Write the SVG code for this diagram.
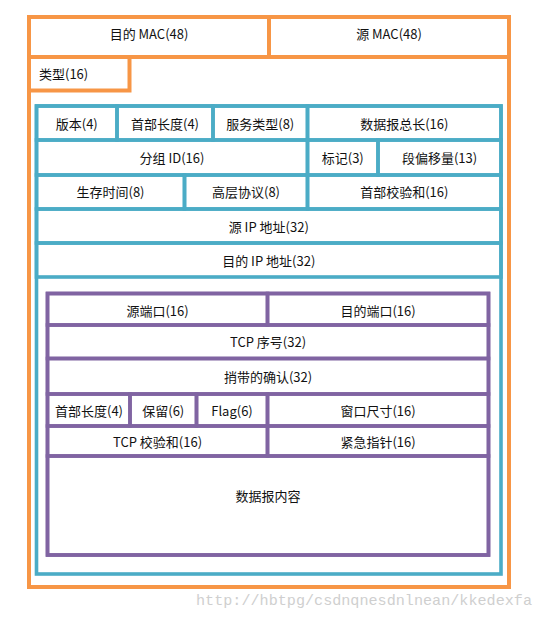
<svg xmlns="http://www.w3.org/2000/svg" width="548" height="617" viewBox="0 0 548 617">
<style>
rect{fill:none}
.o{stroke:#F79646;stroke-width:4}
.b{stroke:#4BACC6;stroke-width:3.6}
.p{stroke:#8064A2;stroke-width:3.6}
text{font-family:"Noto Sans CJK SC","Noto Sans",sans-serif;font-size:13px;fill:#111;text-anchor:middle;dominant-baseline:central}
.wm{font-family:"Liberation Mono","DejaVu Sans Mono",monospace;font-size:15px;fill:#cfcfcf;text-anchor:start;dominant-baseline:auto}
</style>
<rect width="548" height="617" fill="#fff" style="fill:#fff"/>
<g id="ethernet">
<rect class="o" x="29" y="17" width="480" height="570"/>
<g id="dst-mac"><rect class="o" x="29" y="17" width="240" height="40"/><text x="149" y="33">目的 MAC(48)</text></g>
<g id="src-mac"><rect class="o" x="269" y="17" width="240" height="40"/><text x="389" y="33">源 MAC(48)</text></g>
<g id="type"><rect class="o" x="29" y="57" width="100.5" height="33.5"/><text x="39" y="73" style="text-anchor:start">类型(16)</text></g>
</g>
<g id="ip">
<rect class="b" x="36.5" y="106" width="464.5" height="468"/>
<g id="ip-ver"><rect class="b" x="36.5" y="106" width="80.5" height="34"/><text x="76.75" y="123">版本(4)</text></g>
<g id="ip-hlen"><rect class="b" x="117" y="106" width="96" height="34"/><text x="165" y="123">首部长度(4)</text></g>
<g id="ip-tos"><rect class="b" x="213" y="106" width="94.5" height="34"/><text x="260.25" y="123">服务类型(8)</text></g>
<g id="ip-len"><rect class="b" x="307.5" y="106" width="193.5" height="34"/><text x="404.25" y="123">数据报总长(16)</text></g>
<g id="ip-id"><rect class="b" x="36.5" y="140" width="271" height="35"/><text x="172" y="157">分组 ID(16)</text></g>
<g id="ip-flag"><rect class="b" x="307.5" y="140" width="70.5" height="35"/><text x="342.75" y="157">标记(3)</text></g>
<g id="ip-off"><rect class="b" x="378" y="140" width="123" height="35"/><text x="439.5" y="157">段偏移量(13)</text></g>
<g id="ip-ttl"><rect class="b" x="36.5" y="175" width="148" height="34"/><text x="110.5" y="191">生存时间(8)</text></g>
<g id="ip-proto"><rect class="b" x="184.5" y="175" width="123" height="34"/><text x="246" y="191">高层协议(8)</text></g>
<g id="ip-csum"><rect class="b" x="307.5" y="175" width="193.5" height="34"/><text x="404.25" y="191">首部校验和(16)</text></g>
<g id="ip-src"><rect class="b" x="36.5" y="209" width="464.5" height="34"/><text x="268.75" y="226">源 IP 地址(32)</text></g>
<g id="ip-dst"><rect class="b" x="36.5" y="243" width="464.5" height="34"/><text x="268.75" y="260">目的 IP 地址(32)</text></g>
</g>
<g id="tcp">
<rect class="p" x="47.5" y="293.5" width="441" height="261.5"/>
<g id="tcp-sport"><rect class="p" x="47.5" y="293.5" width="220" height="31.5"/><text x="157.5" y="310">源端口(16)</text></g>
<g id="tcp-dport"><rect class="p" x="267.5" y="293.5" width="221" height="31.5"/><text x="378" y="310">目的端口(16)</text></g>
<g id="tcp-seq"><rect class="p" x="47.5" y="325" width="441" height="33.5"/><text x="268" y="341.5">TCP 序号(32)</text></g>
<g id="tcp-ack"><rect class="p" x="47.5" y="358.5" width="441" height="35.5"/><text x="268" y="376.5">捎带的确认(32)</text></g>
<g id="tcp-hlen"><rect class="p" x="47.5" y="394" width="82.5" height="32"/><text x="89" y="410.5">首部长度(4)</text></g>
<g id="tcp-rsv"><rect class="p" x="130" y="394" width="66.5" height="32"/><text x="163.25" y="410.5">保留(6)</text></g>
<g id="tcp-flag"><rect class="p" x="196.5" y="394" width="71" height="32"/><text x="232" y="410.5">Flag(6)</text></g>
<g id="tcp-win"><rect class="p" x="267.5" y="394" width="221" height="32"/><text x="378" y="410.5">窗口尺寸(16)</text></g>
<g id="tcp-csum"><rect class="p" x="47.5" y="426" width="220" height="30"/><text x="157.5" y="441.5">TCP 校验和(16)</text></g>
<g id="tcp-urg"><rect class="p" x="267.5" y="426" width="221" height="30"/><text x="378" y="441.5">紧急指针(16)</text></g>
<g id="tcp-data"><rect class="p" x="47.5" y="456" width="441" height="99"/><text x="268" y="495">数据报内容</text></g>
</g>
<g id="watermark">
<text class="wm" x="196" y="605" textLength="336" lengthAdjust="spacingAndGlyphs">http://hbtpg/csdnqnesdnlnean/kkedexfa</text>
</g>
</svg>
